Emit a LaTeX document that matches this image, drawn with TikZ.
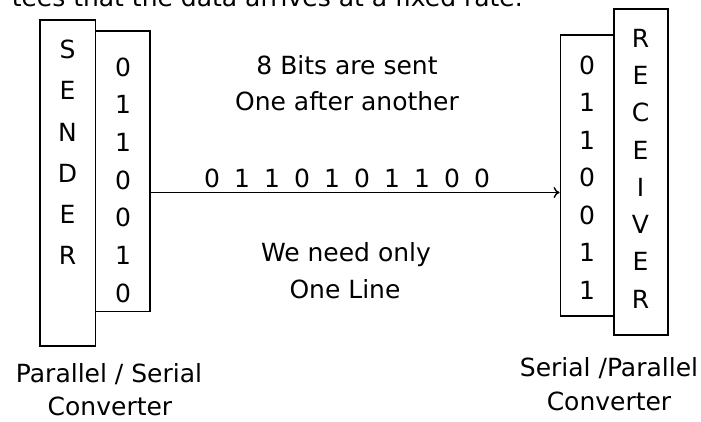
\documentclass[tikz,border=0pt]{standalone}
\usepackage{fontspec}
\setmainfont{DejaVu Sans}
\usetikzlibrary{arrows.meta}
\begin{document}
\begin{tikzpicture}[x=1pt,y=-1pt,
  every node/.style={font=\fontsize{25}{30}\selectfont, inner sep=0pt},
  unit/.style={draw, line width=1.9pt, rectangle},
  glyph/.style={anchor=center},
  caption/.style={anchor=base, align=center},
  wire/.style={line width=1.4pt, -{To[length=6pt,width=11pt]}}]
  \useasboundingbox (0,0) rectangle (701,421);
  \clip (0,0) rectangle (701,421);

  % partial line of running text above the figure
  \node[anchor=base east] (run) at (523,6) {tees that the data arrives at a fixed rate.};

  % sender side: device and parallel/serial converter
  \node[unit, minimum width=55.5pt, minimum height=326pt] (sender) at (67.75,183) {};
  \node[unit, minimum width=54.5pt, minimum height=280.5pt] (sconv) at (122.75,171.25) {};
  \foreach \c [count=\i from 0] in {S,E,N,D,E,R}
    \node[glyph] (s\i) at (67.5,49.5+41.2*\i) {\c};
  \foreach \b [count=\i from 0] in {0,1,1,0,0,1,0}
    \node[glyph] (sb\i) at (123,67+37.7*\i) {\b};

  % receiver side: serial/parallel converter and device
  \node[unit, minimum width=53.5pt, minimum height=281pt] (rconv) at (587.25,175.5) {};
  \node[unit, minimum width=54pt, minimum height=326pt] (receiver) at (641,172) {};
  \foreach \c [count=\i from 0] in {R,E,C,E,I,V,E,R}
    \node[glyph] (r\i) at (640.5,38+37.3*\i) {\c};
  \foreach \b [count=\i from 0] in {0,1,1,0,0,1,1}
    \node[glyph] (rb\i) at (587,65+37.5*\i) {\b};

  % the single serial line
  \coordinate (lineY) at (0,192.5);
  \draw[wire] (sconv.east |- lineY) -- (rconv.west |- lineY);
  \foreach \b [count=\i from 0] in {0,1,1,0,1,0,1,1,0,0}
    \node[anchor=base] (bit\i) at (212+30*\i,187.3) {\b};

  % annotations
  \node[caption] (t1) at (347,74.5) {8 Bits are sent};
  \node[caption] (t2) at (347,110) {One after another};
  \node[caption] (t3) at (346,261) {We need only};
  \node[caption] (t4) at (345,298) {One Line};

  \node[caption] (lc1) at (109,382) {Parallel / Serial};
  \node[caption] (lc2) at (110,415) {Converter};
  \node[caption] (rc1) at (609,376.7) {Serial /Parallel};
  \node[caption] (rc2) at (609,410.7) {Converter};
\end{tikzpicture}
\end{document}
